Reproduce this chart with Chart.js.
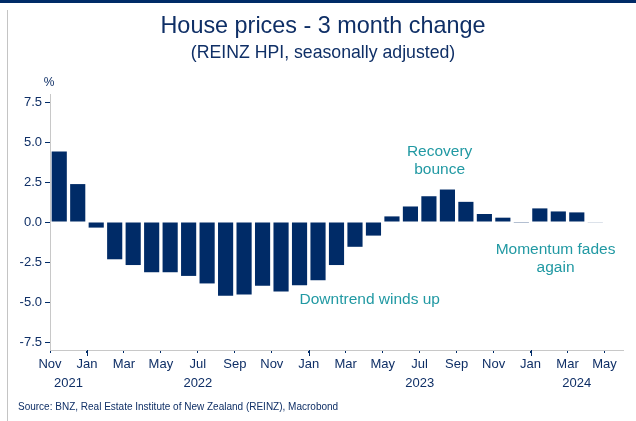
<!DOCTYPE html>
<html>
<head>
<meta charset="utf-8">
<script src="https://cdn.jsdelivr.net/npm/chart.js@4.4.1/dist/chart.umd.min.js"></script>
<style>
    html, body { margin: 0; padding: 0; background: #fff; }
    #wrap { position: relative; width: 636px; height: 421px; overflow: hidden; }
    #topline { position: absolute; left: 0; top: 0; width: 636px; height: 3px; background: #002b67; }
    #leftline { position: absolute; left: 7px; top: 10px; width: 1px; height: 411px; background: #c4c4c4; }
    canvas { position: absolute; left: 0; top: 0; }
</style>
</head>
<body>
<div id="wrap">
    <canvas id="hpiChart" width="636" height="421"></canvas>
    <div id="topline"></div>
    <div id="leftline"></div>
</div>
<script>
(function () {
    "use strict";
    // Monthly categories, Nov 2021 .. May 2024
    const months = ['Nov', 'Dec',
        'Jan', 'Feb', 'Mar', 'Apr', 'May', 'Jun', 'Jul', 'Aug', 'Sep', 'Oct', 'Nov', 'Dec',
        'Jan', 'Feb', 'Mar', 'Apr', 'May', 'Jun', 'Jul', 'Aug', 'Sep', 'Oct', 'Nov', 'Dec',
        'Jan', 'Feb', 'Mar', 'Apr', 'May'];
    const startYear = 2021;
    // 3 month % change, REINZ HPI s.a.
    const hpiChange = [4.40, 2.37, -0.35, -2.33, -2.69, -3.14, -3.14, -3.37, -3.84, -4.61, -4.53, -3.99, -4.34, -3.95,
        -3.64, -2.69, -1.55, -0.85, 0.35, 0.97, 1.61, 2.03, 1.26, 0.50, 0.27, -0.05,
        0.85, 0.66, 0.60, -0.04, null];
    const yTicks = [-7.5, -5.0, -2.5, 0.0, 2.5, 5.0, 7.5];
    const notes = [
        { lines: ['Recovery', 'bounce'], at: 20.58, y: [4.4, 3.28] },
        { lines: ['Downtrend winds up'], at: 16.8, y: [-4.85] },
        { lines: ['Momentum fades', 'again'], at: 26.85, y: [-1.74, -2.85] }
    ];
    const titleText = 'House prices - 3 month change';
    const subtitleText = '(REINZ HPI, seasonally adjusted)';
    const sourceText = 'Source: BNZ, Real Estate Institute of New Zealand (REINZ), Macrobond';

    const navy = '#002b67';
    const textNavy = '#0f2f66';
    const teal = '#2199a3';
    const fontFamily = "'Liberation Sans', Arial, sans-serif";

    const years = [];
    let yr = startYear;
    months.forEach(function (m, i) {
        if (m === 'Jan' && i > 0) {
            yr += 1;
        }
        years.push(yr);
    });

    const extras = {
        id: 'extras',
        afterDraw: function (chart) {
            const ctx = chart.ctx;
            const xs = chart.scales.x;
            const ys = chart.scales.y;
            const slot = xs.getPixelForValue(1) - xs.getPixelForValue(0);
            ctx.save();
            // title block, centred on the framed panel
            ctx.fillStyle = textNavy;
            ctx.textAlign = 'center';
            ctx.textBaseline = 'alphabetic';
            ctx.font = '23.4px ' + fontFamily;
            ctx.fillText(titleText, 323, 33);
            ctx.font = '17.7px ' + fontFamily;
            ctx.fillText(subtitleText, 323, 58);
            // longer tick marks at January
            ctx.strokeStyle = navy;
            ctx.lineWidth = 1;
            months.forEach(function (m, i) {
                if (m === 'Jan') {
                    const px = Math.round(xs.getPixelForValue(i) - slot / 2) + 0.5;
                    ctx.beginPath();
                    ctx.moveTo(px, xs.top);
                    ctx.lineTo(px, xs.top + 6);
                    ctx.stroke();
                }
            });
            // year labels centred on each year's span
            ctx.font = '13px ' + fontFamily;
            ctx.textBaseline = 'middle';
            const seen = [];
            years.forEach(function (y) {
                if (seen.indexOf(y) < 0) {
                    seen.push(y);
                }
            });
            seen.forEach(function (y) {
                const first = years.indexOf(y);
                const last = years.lastIndexOf(y);
                const x0 = xs.getPixelForValue(first) - slot / 2;
                const x1 = xs.getPixelForValue(last) + slot / 2;
                ctx.fillText(String(y), (x0 + x1) / 2, xs.top + 33);
            });
            // unit label
            ctx.font = '12px ' + fontFamily;
            ctx.fillText('%', ys.right - 1, chart.chartArea.top - 11);
            // annotations
            ctx.fillStyle = teal;
            ctx.font = '15.5px ' + fontFamily;
            notes.forEach(function (n) {
                const x = xs.getPixelForValue(0) + n.at * slot;
                n.lines.forEach(function (line, k) {
                    ctx.fillText(line, x, ys.getPixelForValue(n.y[k]));
                });
            });
            // source
            ctx.fillStyle = textNavy;
            ctx.font = '10px ' + fontFamily;
            ctx.textAlign = 'left';
            ctx.fillText(sourceText, 18, 407);
            ctx.restore();
        }
    };

    const context = document.getElementById('hpiChart').getContext('2d');
    const chart = new Chart(context, {
        type: 'bar',
        data: {
            labels: months,
            datasets: [{
                label: '3 month change',
                data: hpiChange,
                backgroundColor: navy,
                borderWidth: 0,
                barPercentage: 0.82,
                categoryPercentage: 1.0
            }]
        },
        options: {
            responsive: false,
            animation: false,
            devicePixelRatio: 1,
            layout: {
                padding: { left: 0, right: 13, top: 94, bottom: 0 }
            },
            scales: {
                x: {
                    type: 'category',
                    offset: true,
                    afterFit: function (scale) {
                        scale.height = 71;
                    },
                    border: { color: '#c8c8c8', width: 1 },
                    grid: {
                        offset: true,
                        drawOnChartArea: false,
                        tickLength: 3,
                        color: function (c) {
                            return c.index % 2 === 0 ? navy : 'rgba(0,0,0,0)';
                        }
                    },
                    ticks: {
                        autoSkip: false,
                        maxRotation: 0,
                        minRotation: 0,
                        padding: 4,
                        labelOffset: -9.25,
                        color: textNavy,
                        font: { family: fontFamily, size: 13 },
                        callback: function (value, index) {
                            return index % 2 === 0 ? months[index] : '';
                        }
                    }
                },
                y: {
                    min: -8,
                    max: 8,
                    afterFit: function (scale) {
                        scale.width = 50;
                    },
                    afterBuildTicks: function (scale) {
                        scale.ticks = yTicks.map(function (v) {
                            return { value: v };
                        });
                    },
                    border: { color: '#c8c8c8', width: 1 },
                    grid: {
                        drawOnChartArea: false,
                        tickLength: 5,
                        color: navy
                    },
                    ticks: {
                        padding: 3,
                        color: textNavy,
                        font: { family: fontFamily, size: 13 },
                        callback: function (value) {
                            return Number(value).toFixed(1);
                        }
                    }
                }
            },
            plugins: {
                legend: { display: false },
                tooltip: { enabled: false },
                title: { display: false },
                subtitle: { display: false }
            }
        },
        plugins: [extras]
    });
}());
</script>
</body>
</html>
